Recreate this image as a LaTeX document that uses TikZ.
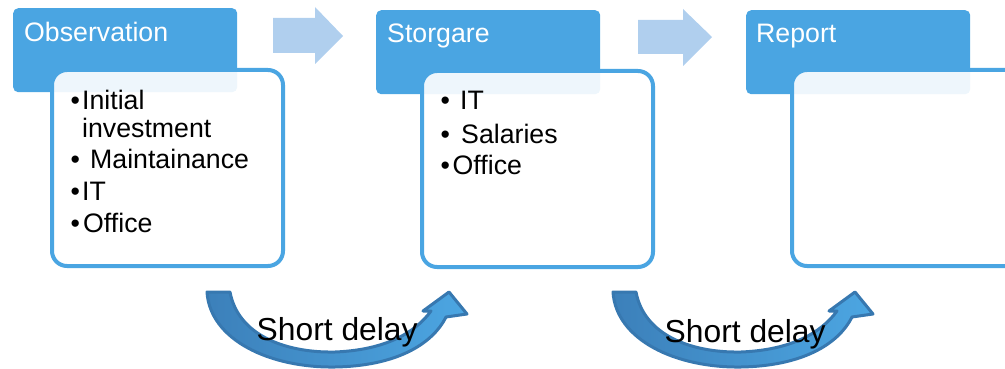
\documentclass[tikz,border=0pt]{standalone}
\usepackage{fontspec}
\setmainfont{Liberation Sans}
\definecolor{hdrblue}{RGB}{74,165,226}
\definecolor{lightarrow}{RGB}{176,207,238}
\definecolor{cdark}{RGB}{55,120,176}
\definecolor{cleft}{RGB}{60,128,186}
\definecolor{cright}{RGB}{76,166,226}
\tikzset{
  hdrbox/.style={fill=hdrblue, rounded corners=5pt, minimum width=224pt, minimum height=84pt, anchor=north west, inner sep=0pt},
  bodybox/.style={draw=hdrblue, line width=4pt, fill=white, fill opacity=0.91, rounded corners=15pt, minimum width=231pt, minimum height=196pt, anchor=north west, inner sep=0pt},
  hdrtext/.style={text=white, font=\fontsize{26.7}{30}\selectfont, anchor=base west, inner sep=0pt},
  itemtext/.style={text=black, font=\fontsize{26.7}{30}\selectfont, anchor=base west, inner sep=0pt},
  delaytext/.style={text=black, font=\fontsize{31.8}{36}\selectfont, anchor=base west, inner sep=0pt},
  blockarrow/.style={fill=lightarrow},
  curvedarrow/.style={draw=cdark, line width=3pt, line join=round, left color=cleft, right color=cright}
}
\begin{document}
\begin{tikzpicture}[x=1pt,y=-1pt]
\useasboundingbox (0,0) rectangle (1005,369);
\clip (0,0) rectangle (1005,369);

% headers
\node[hdrbox] (hdr1) at (13,8) {};
\node[hdrbox] (hdr2) at (376,10) {};
\node[hdrbox] (hdr3) at (746,10) {};

% bodies
\node[bodybox] (body1) at (50,68) {};
\node[bodybox] (body2) at (420,69) {};
\node[bodybox] (body3) at (790,68) {};

% header texts
\node[hdrtext] (h1) at (24,42) {Observation};
\node[hdrtext] (h2) at (387,43) {Storgare};
\node[hdrtext] (h3) at (756,43) {Report};

% block arrows
\coordinate (ba1) at (273,18);
\coordinate (ba2) at (638,20);
\fill[blockarrow] (ba1) -- ++(42,0) -- ++(0,-11) -- ++(28,29) -- ++(-28,28) -- ++(0,-11) -- ++(-42,0) -- cycle;
\fill[blockarrow] (ba2) -- ++(45,0) -- ++(0,-11) -- ++(29,28) -- ++(-29,29) -- ++(0,-12) -- ++(-45,0) -- cycle;

% items box 1
\node[itemtext] (b1a) at (70.5,110) {•};
\node[itemtext] (i1a) at (82,110) {Initial};
\node[itemtext] (i1b) at (82,137) {investment};
\node[itemtext] (b1c) at (70.5,168) {•};
\node[itemtext] (i1c) at (90,168) {Maintainance};
\node[itemtext] (b1d) at (70.5,200) {•};
\node[itemtext] (i1d) at (82,200) {IT};
\node[itemtext] (b1e) at (70.5,232) {•};
\node[itemtext] (i1e) at (83,232) {Office};

% items box 2
\node[itemtext] (b2a) at (440.5,110) {•};
\node[itemtext] (i2a) at (460,110) {IT};
\node[itemtext] (b2b) at (440.5,143) {•};
\node[itemtext] (i2b) at (461,143) {Salaries};
\node[itemtext] (b2c) at (440.5,174) {•};
\node[itemtext] (i2c) at (452.5,174) {Office};

% curved arrows
\foreach \dx in {0,406}{
  \begin{scope}[xshift=\dx pt]
    \path[curvedarrow] (207,292) .. controls (210,340) and (270,368) .. (335,367)
      .. controls (395,366) and (432,345) .. (446,317)
      -- (467,314) -- (449,292) -- (423,311) -- (431,311)
      .. controls (415,333) and (385,350) .. (335,352)
      .. controls (285,353) and (238,335) .. (230,292) -- cycle;
  \end{scope}
}
\node[delaytext] (d1) at (256.5,340) {Short delay};
\node[delaytext] (d2) at (664.5,342) {Short delay};
\end{tikzpicture}
\end{document}
